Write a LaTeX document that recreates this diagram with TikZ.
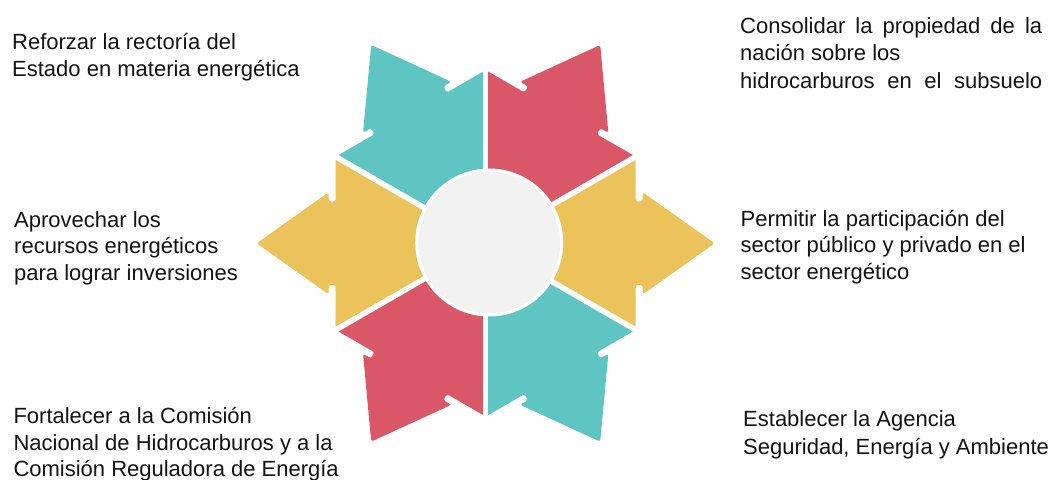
\documentclass[tikz,border=0pt]{standalone}
\usepackage{fontspec}
\setmainfont{Liberation Sans}
\definecolor{cTeal}{HTML}{5FC5C2}
\definecolor{cRed}{HTML}{D95767}
\definecolor{cYel}{HTML}{ECC25A}
\definecolor{cGray}{HTML}{F2F2F2}
\definecolor{cText}{HTML}{141414}
\begin{document}
\begin{tikzpicture}[x=1pt,y=1pt,
  txt/.style={anchor=base west, inner sep=0pt, align=left, text=cText},
  sep/.style={white, line width=5.5pt},
  hub/.style={fill=cGray, draw=white, line width=3pt}]
\useasboundingbox (0,0) rectangle (1054,479);
\fill[white] (0,0) rectangle (1054,479);
\coordinate (C) at (485.7,235.7);
% six arrow segments
\foreach \a/\c in {0/cYel,60/cRed,120/cTeal,180/cYel,240/cRed,300/cTeal}{
  \fill[\c, rounded corners=2.5pt, shift={(C)}, rotate=\a]
    (0,0) -- (150,-86.6) -- (150,-41.7) -- (157,-41.7) -- (157,-51)
    -- (229,0) -- (157,51) -- (157,41.7) -- (150,41.7) -- (150,86.6) -- cycle;
}
% white separators
\foreach \a in {30,90,150,210,270,330}{
  \draw[sep] (C) -- ++(\a:185);
}
% central circle
\path[hub] (489.2,236.5) circle (72.5);
% texts (anchor = baseline of the last line)
\node[txt, font=\fontsize{22}{27}\selectfont] (t1) at (12,402.5)
  {Reforzar la rectoría del\\Estado en materia energética};
\node[txt, font=\fontsize{22}{27.5}\selectfont] (t2) at (740,390.7)
  {\makebox[302pt][s]{Consolidar la propiedad de la}\\nación sobre los\\\makebox[302pt][s]{hidrocarburos en el subsuelo}};
\node[txt, font=\fontsize{22}{26.5}\selectfont] (t3) at (14,198.7)
  {Aprovechar los\\recursos energéticos\\para lograr inversiones};
\node[txt, font=\fontsize{22}{26.3}\selectfont] (t4) at (740.5,199.7)
  {Permitir la participación del\\sector público y privado en el\\sector energético};
\node[txt, font=\fontsize{22}{26.7}\selectfont] (t5) at (13.3,2.3)
  {Fortalecer a la Comisión\\Nacional de Hidrocarburos y a la\\Comisión Reguladora de Energía};
\node[txt, font=\fontsize{22}{28.3}\selectfont] (t6) at (743,24)
  {Establecer la Agencia\\Seguridad, Energía y Ambiente};
\end{tikzpicture}
\end{document}
